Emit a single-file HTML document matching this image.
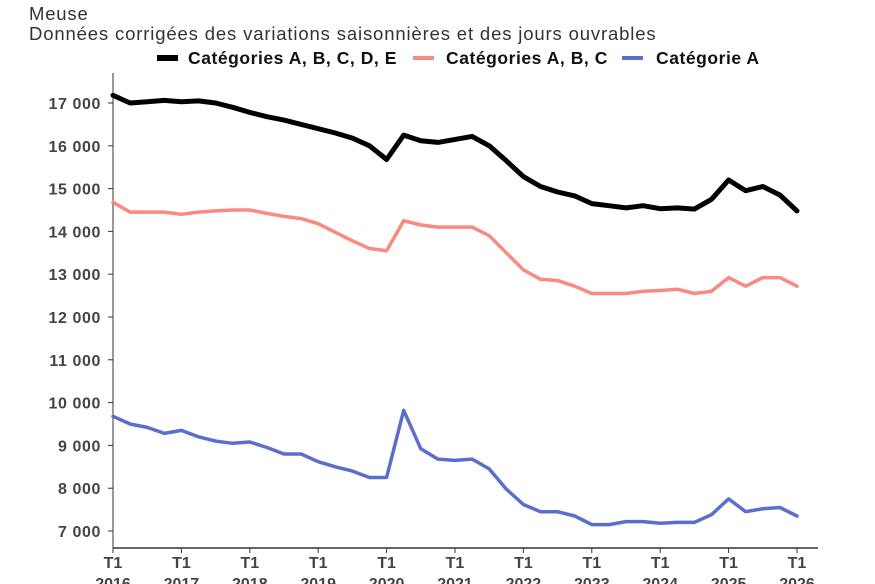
<!DOCTYPE html>
<html><head><meta charset="utf-8"><style>
body{margin:0;background:#fff;width:875px;height:584px;overflow:hidden}
svg{display:block}
</style></head><body>
<svg id="s" width="875" height="584" xmlns="http://www.w3.org/2000/svg" font-family="Liberation Sans, sans-serif">
<text x="29" y="20" font-size="18.5" fill="#333" letter-spacing="0.8">Meuse</text>
<text x="29" y="40" font-size="18.5" fill="#333" letter-spacing="0.85">Données corrigées des variations saisonnières et des jours ouvrables</text>
<rect x="157" y="55" width="21" height="6" fill="#000"/>
<text x="188" y="64" font-size="17.5" font-weight="bold" fill="#111" letter-spacing="0.55">Catégories A, B, C, D, E</text>
<rect x="413" y="56" width="21" height="4" fill="#f88a80"/>
<text x="446" y="64" font-size="17.5" font-weight="bold" fill="#111" letter-spacing="0.55">Catégories A, B, C</text>
<rect x="622" y="56" width="21" height="4" fill="#5a6fcc"/>
<text x="656" y="64" font-size="17.5" font-weight="bold" fill="#111" letter-spacing="0.55">Catégorie A</text>
<line x1="113" y1="73" x2="113" y2="548" stroke="#333" stroke-width="1"/>
<line x1="113" y1="548" x2="818" y2="548" stroke="#333" stroke-width="1.5"/>
<g id="g"></g>
</svg>
<script>
var ns="http://www.w3.org/2000/svg",g=document.getElementById('g');
function el(t,a,txt){var e=document.createElementNS(ns,t);for(var k in a)e.setAttribute(k,a[k]);if(txt)e.textContent=txt;g.appendChild(e);return e;}
function Y(v){return 531-(v-7)*42.8;}
function X(i){return 113+i*17.1;}
for(var v=7;v<=17;v++){var y=Y(v);el('line',{x1:108,y1:y,x2:113,y2:y,stroke:'#333'});
el('text',{x:101,y:y+6,'font-size':16,'font-weight':'bold',fill:'#444','text-anchor':'end','letter-spacing':0.6},v+' 000');}
for(var k=0;k<=10;k++){var x=X(k*4);el('line',{x1:x,y1:548,x2:x,y2:553,stroke:'#333'});
el('text',{x:x,y:568,'font-size':16,'font-weight':'bold',fill:'#444','text-anchor':'middle'},'T1');
el('text',{x:x,y:589,'font-size':16,'font-weight':'bold',fill:'#444','text-anchor':'middle'},String(2016+k));}
var blk=[17.18,17.0,17.03,17.06,17.03,17.05,17.0,16.9,16.78,16.68,16.6,16.5,16.4,16.3,16.18,16.0,15.8,15.68,16.25,16.12,16.08,16.15,16.22,16.0,15.65,15.28,15.05,14.92,14.83,14.65,14.6,14.55,14.6,14.53,14.55,14.52,14.75,15.2,14.95,15.05,14.85,14.48];
blk.splice(16,1);
var pnk=[14.68,14.45,14.45,14.45,14.4,14.45,14.48,14.5,14.5,14.42,14.35,14.3,14.18,13.98,13.78,13.6,13.55,14.25,14.15,14.1,14.1,14.1,13.9,13.5,13.1,12.88,12.85,12.72,12.55,12.55,12.55,12.6,12.62,12.65,12.55,12.6,12.92,12.72,12.92,12.92,12.72];
var blu=[9.68,9.5,9.42,9.28,9.35,9.2,9.1,9.05,9.08,8.95,8.8,8.8,8.62,8.5,8.4,8.25,8.25,9.82,8.92,8.68,8.65,8.68,8.45,7.98,7.62,7.45,7.45,7.35,7.15,7.15,7.22,7.22,7.18,7.2,7.2,7.38,7.75,7.45,7.52,7.55,7.35];
function line(d,c,w){var p=d.map(function(v,i){return (i?'L':'M')+X(i).toFixed(1)+' '+Y(v).toFixed(1)}).join(' ');
el('path',{d:p,fill:'none',stroke:c,'stroke-width':w,'stroke-linejoin':'round','stroke-linecap':'round'});}
line(blu,'#5a6fcc',3.5);line(pnk,'#f88a80',3.5);line(blk,'#000',5);
</script>
</body></html>
